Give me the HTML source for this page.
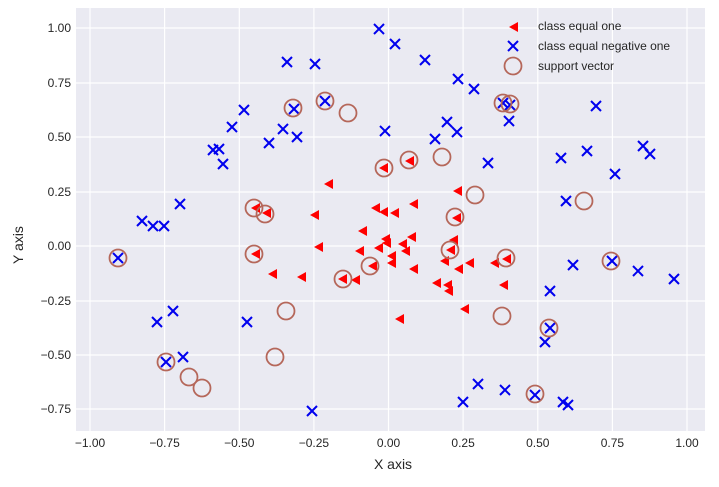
<!DOCTYPE html>
<html><head><meta charset="utf-8"><style>
html,body{margin:0;padding:0;background:#fff;}
svg text{font-family:"Liberation Sans",sans-serif;}
</style></head><body>
<svg width="719" height="482" viewBox="0 0 719 482" xmlns="http://www.w3.org/2000/svg">
<defs>
<polygon id="t" points="-5,0 4,-5 4,5" fill="#ff0000"/>
<g id="x" stroke="#0000ee" stroke-width="2"><line x1="-5" y1="-5" x2="5" y2="5"/><line x1="-5" y1="5" x2="5" y2="-5"/></g>
<circle id="c" r="8.5" fill="none" stroke="#b5675a" stroke-width="1.8"/>
</defs>
<rect x="76" y="8" width="629" height="423" fill="#eaeaf2"/>
<g stroke="#fff" stroke-width="1.2">
<line x1="90" y1="8" x2="90" y2="431"/><line x1="164.6" y1="8" x2="164.6" y2="431"/><line x1="239.3" y1="8" x2="239.3" y2="431"/><line x1="313.9" y1="8" x2="313.9" y2="431"/><line x1="388.5" y1="8" x2="388.5" y2="431"/><line x1="463.1" y1="8" x2="463.1" y2="431"/><line x1="537.8" y1="8" x2="537.8" y2="431"/><line x1="612.4" y1="8" x2="612.4" y2="431"/><line x1="687" y1="8" x2="687" y2="431"/>
<line x1="76" y1="28" x2="705" y2="28"/><line x1="76" y1="83" x2="705" y2="83"/><line x1="76" y1="137" x2="705" y2="137"/><line x1="76" y1="192" x2="705" y2="192"/><line x1="76" y1="246" x2="705" y2="246"/><line x1="76" y1="301" x2="705" y2="301"/><line x1="76" y1="355" x2="705" y2="355"/><line x1="76" y1="409" x2="705" y2="409"/>
</g>
<g font-size="12" fill="#262626" text-anchor="middle">
<text x="90" y="447">−1.00</text><text x="164.6" y="447">−0.75</text><text x="239.3" y="447">−0.50</text><text x="313.9" y="447">−0.25</text><text x="388.5" y="447">0.00</text><text x="463.1" y="447">0.25</text><text x="537.8" y="447">0.50</text><text x="612.4" y="447">0.75</text><text x="687" y="447">1.00</text>
</g>
<g font-size="12" fill="#262626" text-anchor="end">
<text x="71" y="32">1.00</text><text x="71" y="87">0.75</text><text x="71" y="141">0.50</text><text x="71" y="196">0.25</text><text x="71" y="250">0.00</text><text x="71" y="305">−0.25</text><text x="71" y="359">−0.50</text><text x="71" y="413">−0.75</text>
</g>
<text x="393" y="469" font-size="14" fill="#262626" text-anchor="middle">X axis</text>
<text transform="translate(23,245) rotate(-90)" font-size="14" fill="#262626" text-anchor="middle">Y axis</text>

<g>
<use href="#t" x="329" y="184"/><use href="#t" x="458" y="191"/><use href="#t" x="384" y="168"/><use href="#t" x="410" y="161"/><use href="#t" x="457" y="218"/>
<use href="#t" x="256" y="208"/><use href="#t" x="267" y="213"/><use href="#t" x="315" y="215"/><use href="#t" x="376" y="208"/><use href="#t" x="384" y="212"/><use href="#t" x="395" y="213"/><use href="#t" x="414" y="204"/>
<use href="#t" x="363" y="231"/><use href="#t" x="386" y="239"/><use href="#t" x="412" y="237"/><use href="#t" x="454" y="240"/><use href="#t" x="319" y="247"/><use href="#t" x="360" y="251"/><use href="#t" x="379" y="248"/><use href="#t" x="387" y="243"/><use href="#t" x="403" y="244"/><use href="#t" x="406" y="251"/><use href="#t" x="451" y="250"/><use href="#t" x="256" y="254"/>
<use href="#t" x="392" y="256"/><use href="#t" x="392" y="263"/><use href="#t" x="373" y="266"/><use href="#t" x="414" y="269"/><use href="#t" x="445" y="261"/><use href="#t" x="459" y="269"/><use href="#t" x="470" y="263"/><use href="#t" x="495" y="263"/><use href="#t" x="507" y="259"/>
<use href="#t" x="273" y="274"/><use href="#t" x="302" y="277"/><use href="#t" x="343" y="279"/><use href="#t" x="356" y="280"/><use href="#t" x="437" y="283"/><use href="#t" x="448" y="285"/><use href="#t" x="449" y="291"/><use href="#t" x="504" y="285"/><use href="#t" x="465" y="309"/><use href="#t" x="400" y="319"/>
</g>
<g>
<use href="#x" x="379" y="29"/><use href="#x" x="395" y="44"/><use href="#x" x="425" y="60"/><use href="#x" x="458" y="79"/><use href="#x" x="474" y="89"/><use href="#x" x="503" y="103"/><use href="#x" x="510" y="105"/><use href="#x" x="509" y="121"/><use href="#x" x="596" y="106"/>
<use href="#x" x="385" y="131"/><use href="#x" x="447" y="122"/><use href="#x" x="457" y="132"/><use href="#x" x="435" y="139"/><use href="#x" x="488" y="163"/><use href="#x" x="561" y="158"/><use href="#x" x="587" y="151"/><use href="#x" x="643" y="146"/><use href="#x" x="650" y="154"/><use href="#x" x="615" y="174"/><use href="#x" x="566" y="201"/>
<use href="#x" x="573" y="265"/><use href="#x" x="612" y="261"/><use href="#x" x="638" y="271"/><use href="#x" x="674" y="279"/><use href="#x" x="550" y="291"/><use href="#x" x="550" y="328"/><use href="#x" x="545" y="342"/><use href="#x" x="478" y="384"/><use href="#x" x="505" y="390"/><use href="#x" x="463" y="402"/><use href="#x" x="535" y="395"/><use href="#x" x="563" y="402"/><use href="#x" x="568" y="405"/>
<use href="#x" x="287" y="62"/><use href="#x" x="315" y="64"/><use href="#x" x="325" y="101"/><use href="#x" x="294" y="109"/><use href="#x" x="244" y="110"/><use href="#x" x="232" y="127"/><use href="#x" x="283" y="129"/><use href="#x" x="297" y="137"/><use href="#x" x="269" y="143"/><use href="#x" x="213" y="150"/><use href="#x" x="219" y="149"/><use href="#x" x="223" y="164"/>
<use href="#x" x="180" y="204"/><use href="#x" x="142" y="221"/><use href="#x" x="153" y="226"/><use href="#x" x="164" y="226"/><use href="#x" x="118" y="258"/><use href="#x" x="173" y="311"/><use href="#x" x="157" y="322"/><use href="#x" x="247" y="322"/><use href="#x" x="166" y="362"/><use href="#x" x="183" y="357"/><use href="#x" x="312" y="411"/>
</g>
<g>
<use href="#c" x="325" y="101"/><use href="#c" x="293" y="108"/><use href="#c" x="348" y="113"/><use href="#c" x="254" y="208"/><use href="#c" x="265" y="214"/><use href="#c" x="254" y="254"/><use href="#c" x="118" y="258"/><use href="#c" x="370" y="266"/><use href="#c" x="343" y="279"/><use href="#c" x="286" y="311"/><use href="#c" x="275" y="357"/><use href="#c" x="166" y="362"/><use href="#c" x="189" y="377"/><use href="#c" x="202" y="388"/>
<use href="#c" x="503" y="103"/><use href="#c" x="510" y="104"/><use href="#c" x="409" y="160"/><use href="#c" x="384" y="168"/><use href="#c" x="442" y="157"/><use href="#c" x="475" y="195"/><use href="#c" x="584" y="201"/><use href="#c" x="455" y="217"/><use href="#c" x="450" y="250"/><use href="#c" x="506" y="258"/><use href="#c" x="611" y="261"/><use href="#c" x="502" y="316"/><use href="#c" x="549" y="328"/><use href="#c" x="535" y="394"/>
</g>
<g font-size="12" fill="#262626">
<use href="#t" x="514" y="27"/><text x="538" y="30">class equal one</text>
<use href="#x" x="513" y="46"/><text x="538" y="50">class equal negative one</text>
<use href="#c" x="513" y="66"/><text x="538" y="70">support vector</text>
</g>
</svg>
</body></html>
